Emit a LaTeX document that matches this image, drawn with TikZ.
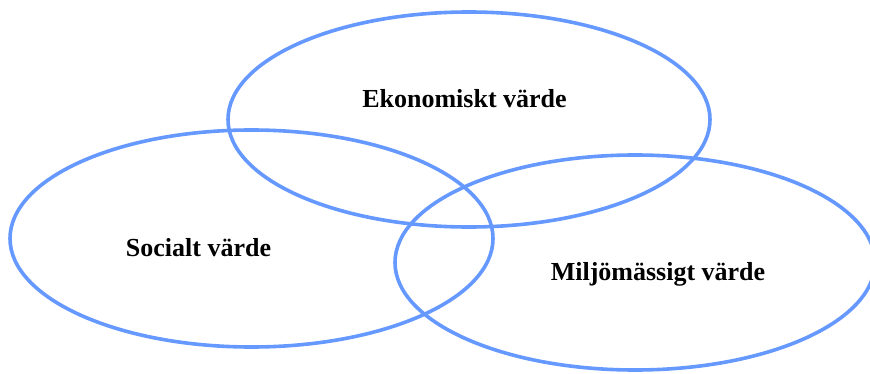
\documentclass[tikz,border=0pt]{standalone}
\usepackage{fontspec}
\setmainfont{Liberation Serif}
\usetikzlibrary{shapes.geometric}
\definecolor{ringblue}{HTML}{6699FF}
\begin{document}
\begin{tikzpicture}[x=1pt,y=-1pt,
  ring/.style={ellipse,draw=ringblue,line width=3.6pt,inner sep=0pt},
  lbl/.style={anchor=base,font=\fontsize{26}{30}\selectfont\bfseries,inner sep=0pt}]
\useasboundingbox (0,0) rectangle (870,374);
\clip (0,0) rectangle (870,374);
\node[ring,minimum width=482pt,minimum height=215pt] (eko) at (469,119.5) {};
\node[ring,minimum width=483pt,minimum height=217pt] (soc) at (251.5,238.5) {};
\node[ring,minimum width=480pt,minimum height=215pt] (mil) at (635,262.5) {};
\node[lbl] (tEko) at (464.5,108) {Ekonomiskt värde};
\node[lbl] (tSoc) at (198.5,256) {Socialt värde};
\node[lbl] (tMil) at (658,280) {Miljömässigt värde};
\end{tikzpicture}
\end{document}
